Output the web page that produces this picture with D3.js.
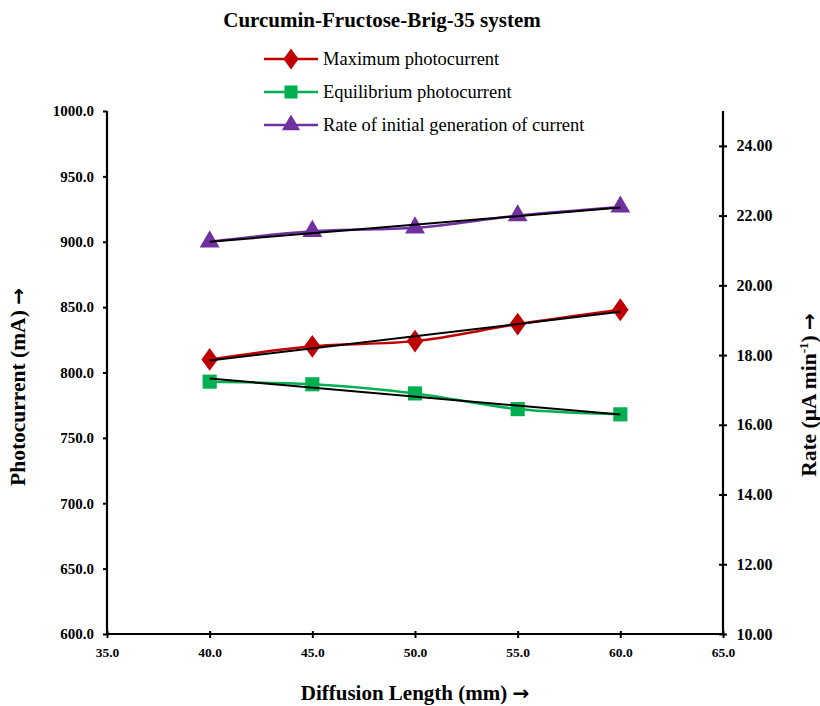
<!DOCTYPE html>
<html><head><meta charset="utf-8">
<script src="https://cdn.jsdelivr.net/npm/d3@7"></script>
<style>body{margin:0;background:#fff}svg{display:block}text{font-family:"Liberation Serif","Times New Roman",serif}
.arr{font-family:"DejaVu Sans",sans-serif;font-weight:bold}</style>
</head><body>
<script>
const lengths = [40, 45, 50, 55, 60];
const maxPhoto = [810, 820, 824, 837, 848];
const eqPhoto = [793, 791, 784, 772, 768];
const rateInit = [21.25, 21.55, 21.65, 22.0, 22.25];
const xTicks = [35, 40, 45, 50, 55, 60, 65];
const yTicks = [600, 650, 700, 750, 800, 850, 900, 950, 1000];
const y2Ticks = [10, 12, 14, 16, 18, 20, 22, 24];
const seriesNames = ["Maximum photocurrent", "Equilibrium photocurrent", "Rate of initial generation of current"];

const W = 820, H = 706;
const svg = d3.select("body").append("svg").attr("width", W).attr("height", H);
const x = d3.scaleLinear().domain([35, 65]).range([107, 723]);
const y = d3.scaleLinear().domain([600, 1000]).range([634, 111]);
const y2 = d3.scaleLinear().domain([10, 25]).range([634, 111]);

function fit(xs, ys) {
  const mx = d3.mean(xs), my = d3.mean(ys);
  const s = d3.sum(xs, (v, i) => (v - mx) * (ys[i] - my)) / d3.sum(xs, v => (v - mx) ** 2);
  return v => my + s * (v - mx);
}

const colors = ["#C00000", "#00B050", "#7030A0"];
const series = [
  {vals: maxPhoto, sc: y, color: colors[0], sym: d3.symbolDiamond, size: 150},
  {vals: eqPhoto, sc: y, color: colors[1], sym: d3.symbolSquare, size: 200},
  {vals: rateInit, sc: y2, color: colors[2], sym: d3.symbolTriangle, size: 170}
];

// axes
const gx = svg.append("g").attr("transform", "translate(0,634)")
  .call(d3.axisBottom(x).tickValues(xTicks).tickFormat(d3.format(".1f")).tickSize(4));
gx.selectAll(".tick line").attr("y1", -3).attr("y2", 4);
const gy = svg.append("g").attr("transform", "translate(107,0)")
  .call(d3.axisLeft(y).tickValues(yTicks).tickFormat(d3.format(".1f")).tickSize(4));
const gy2 = svg.append("g").attr("transform", "translate(723,0)")
  .call(d3.axisRight(y2).tickValues(y2Ticks).tickFormat(d3.format(".2f")).tickSize(4));
gy2.selectAll(".tick line").attr("x1", -4).attr("x2", 4);
[gx, gy, gy2].forEach(g => {
  g.select(".domain").attr("stroke", "#000").attr("stroke-width", 2.2);
  g.selectAll(".tick line").attr("stroke", "#000").attr("stroke-width", 2);
  g.selectAll(".tick text").attr("font-weight", "bold").attr("fill", "#000");
});
gx.selectAll(".tick text").attr("font-size", 13.5).attr("dy", "1.2em");
gy.selectAll(".tick text").attr("font-size", 15).attr("dx", "-0.4em");
gy2.selectAll(".tick text").attr("font-size", 16).attr("dx", "0.4em");
gx.select(".domain").attr("d", "M107,0H723");
gy.select(".domain").attr("d", "M0,634V111");
gy2.select(".domain").attr("d", "M0,634V111");

// series
series.forEach(s => {
  const line = d3.line().x((d, i) => x(lengths[i])).y(d => s.sc(d)).curve(d3.curveMonotoneX);
  svg.append("path").datum(s.vals).attr("d", line).attr("fill", "none")
    .attr("stroke", s.color).attr("stroke-width", 2.5);
  svg.selectAll(null).data(s.vals).enter().append("path")
    .attr("d", d3.symbol().type(s.sym).size(s.size))
    .attr("transform", (d, i) => `translate(${x(lengths[i])},${s.sc(d)})` + (s.sym === d3.symbolDiamond ? " scale(1.25,1)" : ""))
    .attr("fill", s.color);
});
// trendlines
series.forEach(s => {
  const f = fit(lengths, s.vals);
  svg.append("line").attr("x1", x(40)).attr("x2", x(60))
    .attr("y1", s.sc(f(40))).attr("y2", s.sc(f(60)))
    .attr("stroke", "#000").attr("stroke-width", 2);
});

// title
svg.append("text").attr("x", 382).attr("y", 27).attr("text-anchor", "middle")
  .attr("font-size", 21).attr("font-weight", "bold").text("Curcumin-Fructose-Brig-35 system");

// legend
const syms = [d3.symbolDiamond, d3.symbolSquare, d3.symbolTriangle];
seriesNames.forEach((n, i) => {
  const ly = 59 + i * 33;
  svg.append("line").attr("x1", 264).attr("x2", 318).attr("y1", ly).attr("y2", ly)
    .attr("stroke", colors[i]).attr("stroke-width", 2.5);
  svg.append("path").attr("d", d3.symbol().type(syms[i]).size(series[i].size * 0.85))
    .attr("transform", `translate(291,${ly})` + (i === 0 ? " scale(1.25,1)" : ""))
    .attr("fill", colors[i]);
  svg.append("text").attr("x", 323).attr("y", ly + 6).attr("font-size", 18.5).text(n);
});

// axis labels
const xl = svg.append("text").attr("x", 415).attr("y", 700).attr("text-anchor", "middle")
  .attr("font-size", 21).attr("font-weight", "bold");
xl.append("tspan").text("Diffusion Length (mm) ");
xl.append("tspan").attr("class", "arr").attr("font-size", 20).text("\u2192");
const yl = svg.append("text").attr("transform", "translate(25,387) rotate(-90)").attr("text-anchor", "middle")
  .attr("font-size", 21.5).attr("font-weight", "bold");
yl.append("tspan").text("Photocurrent (mA)  ");
yl.append("tspan").attr("class", "arr").attr("font-size", 20).text("\u2192");
const rt = svg.append("text").attr("transform", "translate(816,395) rotate(-90)").attr("text-anchor", "middle")
  .attr("font-size", 21.5).attr("font-weight", "bold");
rt.append("tspan").text("Rate (\u00B5A min");
rt.append("tspan").attr("font-size", 13).attr("dy", -8).text("-1");
rt.append("tspan").attr("dy", 8).text(") ");
rt.append("tspan").attr("class", "arr").attr("font-size", 20).text("\u2192");
</script>
</body></html>
